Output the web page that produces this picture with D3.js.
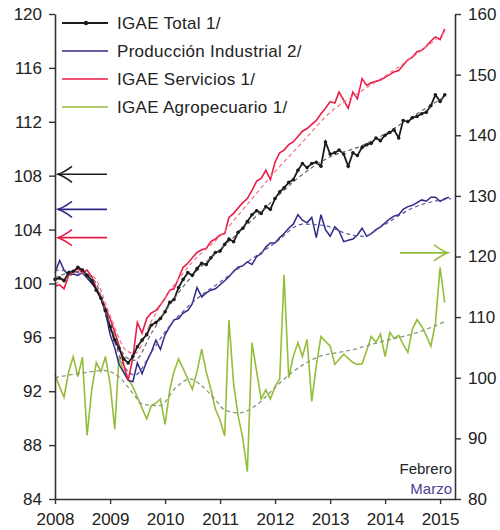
<!DOCTYPE html>
<html>
<head>
<meta charset="utf-8">
<script src="https://cdn.jsdelivr.net/npm/d3@7"></script>
<style>
  html, body { margin: 0; padding: 0; background: #fff; }
  svg { display: block; font-family: "Liberation Sans", Arial, sans-serif; }
</style>
</head>
<body>
<div id="chart"></div>
<script>
// monthly series, Jan 2008 onward
const igaeTotal = [
  100.3, 100.4, 100.2, 100.8, 100.9, 101.2, 101.0, 100.6, 100.2, 99.5, 98.9, 98.0,
  96.8, 95.8, 95.2, 94.4, 94.1, 94.6, 95.3, 95.8, 96.2, 96.9, 97.1, 97.4,
  97.9, 98.6, 98.8, 99.7, 100.3, 100.8, 100.6, 101.1, 101.5, 101.4, 101.9, 102.3,
  102.4, 102.9, 103.3, 103.1, 103.8, 104.1, 104.6, 105.1, 105.4, 105.2, 105.7, 105.5,
  106.3, 106.8, 107.1, 107.5, 107.7, 108.4, 108.9, 108.6, 108.9, 109.0, 108.7, 110.5,
  109.6, 109.7, 109.9, 109.6, 108.7, 109.7, 109.5, 110.1, 110.3, 110.4, 110.8, 110.6,
  111.0, 111.2, 111.4, 110.8, 112.1, 112.0, 112.3, 112.4, 112.6, 112.7, 113.2, 114.0,
  113.5, 114.0
];
const prodIndustrial = [
  100.8, 101.7, 101.0, 100.6, 100.7, 100.6, 100.8, 100.4, 100.0, 99.6, 98.9, 97.9,
  96.2, 95.2, 94.0, 93.4, 92.8, 92.7, 94.1, 93.3, 94.2, 94.9, 95.8, 95.1,
  96.2, 96.8, 97.3, 97.4, 97.8, 98.0, 98.5, 99.7, 99.0, 99.3, 99.5, 99.6,
  99.9, 100.2, 100.5, 100.9, 101.2, 101.3, 101.6, 101.4, 102.0, 102.2, 102.7, 103.0,
  103.0, 103.4, 103.7, 104.1, 104.4, 105.1, 104.7, 104.5, 104.9, 103.4, 105.1, 104.0,
  103.5, 104.2, 103.9, 103.1, 103.2, 103.3, 103.6, 104.1, 103.5, 103.7, 104.0, 104.2,
  104.5, 104.8, 105.0, 105.1, 105.5, 105.7, 105.8, 106.0, 106.2, 106.1, 106.4, 106.4,
  106.1, 106.3, 106.4
];
const igaeServicios = [
  99.8, 99.9, 99.6, 100.6, 100.9, 101.1, 100.8, 101.0, 100.5, 99.6, 99.0, 98.2,
  97.4, 96.4, 95.4, 94.0, 92.8, 94.5, 97.1, 96.3, 97.4, 97.8, 98.0, 98.4,
  98.9, 99.5, 99.6, 100.4, 101.2, 101.5, 101.9, 102.3, 102.5, 102.6, 103.1, 103.3,
  103.6, 103.7, 104.9, 105.2, 105.6, 106.0, 106.3, 106.9, 107.6, 107.8, 108.4, 107.7,
  109.0, 109.7, 109.9, 110.3, 110.5, 110.9, 111.3, 111.5, 111.8, 112.1, 112.6, 113.0,
  113.5, 113.4, 114.2, 113.6, 113.0, 114.2, 113.7, 115.2, 114.7, 114.9, 115.0, 115.1,
  115.3, 115.5, 115.7, 115.8, 116.2, 116.6, 116.8, 117.2, 117.3, 117.6, 118.0, 118.3,
  118.1, 118.9
];
// right axis
const igaeAgro = [
  100.5, 98.5, 96.8, 101.0, 103.5, 100.2, 103.4, 90.5, 98.0, 102.5, 101.0, 103.5,
  99.0, 91.5, 103.5, 101.0, 99.8, 98.5, 96.8, 95.0, 93.2, 95.4, 95.8, 96.5,
  92.3, 98.0, 101.0, 103.1, 101.5, 99.8, 98.1, 101.0, 104.7, 101.0, 98.1, 94.8,
  93.0, 90.4, 109.5, 99.0, 93.7, 90.0, 84.5, 105.8, 101.0, 96.5, 98.0, 96.5,
  98.5, 99.8, 117.0, 100.0, 103.5, 105.8, 103.5, 106.3, 96.1, 102.0, 106.8, 106.0,
  105.2, 102.2, 103.0, 103.9, 103.2, 102.5, 102.2, 102.3, 104.5, 106.8, 105.8, 107.2,
  103.5, 107.5, 106.5, 107.0, 105.5, 104.2, 108.0, 109.6, 108.5, 107.0, 105.2, 109.0,
  118.2, 112.4
];

// trend knots [decimal year, value]
const trendTotal = [[2008.0,100.4],[2008.4,100.9],[2008.7,100.3],[2009.0,97.0],[2009.3,94.5],[2009.45,94.3],[2009.75,96.3],[2010.0,97.9],[2010.5,100.6],[2011.0,102.5],[2011.5,104.4],[2012.0,106.3],[2012.5,108.1],[2013.0,109.4],[2013.5,110.1],[2014.0,111.1],[2014.5,112.4],[2015.1,113.9]];
const trendServicios = [[2008.0,99.9],[2008.4,100.8],[2008.7,100.5],[2009.0,97.6],[2009.3,95.0],[2009.45,94.8],[2009.75,97.2],[2010.0,98.9],[2010.5,101.6],[2011.0,103.5],[2011.5,105.9],[2012.0,108.3],[2012.5,110.5],[2013.0,112.7],[2013.5,114.1],[2014.0,115.4],[2014.5,116.8],[2015.1,118.7]];
const trendIndustrial = [[2008.0,101.0],[2008.4,100.8],[2008.7,100.1],[2009.0,96.6],[2009.3,93.6],[2009.45,93.2],[2009.75,94.9],[2010.0,96.4],[2010.5,98.6],[2011.0,100.1],[2011.5,101.6],[2012.0,103.0],[2012.5,104.4],[2012.9,104.3],[2013.3,103.7],[2013.6,103.5],[2014.0,104.4],[2014.5,105.6],[2015.2,106.3]];
const trendAgro = [[2008.0,100.0],[2008.5,100.8],[2008.9,101.2],[2009.2,99.8],[2009.4,97.6],[2009.6,95.6],[2009.9,95.4],[2010.2,98.4],[2010.45,99.8],[2010.65,98.8],[2010.9,96.5],[2011.1,94.6],[2011.35,94.2],[2011.65,95.4],[2012.0,98.4],[2012.3,100.8],[2012.75,103.3],[2013.35,104.5],[2013.95,106.0],[2014.6,107.5],[2015.1,109.3]];

const leftTicks = [84, 88, 92, 96, 100, 104, 108, 112, 116, 120];
const rightTicks = [80, 90, 100, 110, 120, 130, 140, 150, 160];
const yearTicks = [2008, 2009, 2010, 2011, 2012, 2013, 2014, 2015];

const legendLabels = ["IGAE Total 1/", "Producción Industrial 2/", "IGAE Servicios 1/", "IGAE Agropecuario 1/"];
// latest readings pointed at by the arrows
const arrowsLeft = [108.1, 105.5, 103.4];
const arrowRight = 120.6;
const noteLabels = ["Febrero", "Marzo"];

const colors = { total: "#1c1c1c", ind: "#2e2a86", serv: "#ec1b45", agro: "#94bd3a" };
const trendColors = { total: "#666", ind: "#5a56a6", serv: "#f07088", agro: "#8a9a76" };

const W = 500, H = 530;
const svg = d3.select("#chart").append("svg").attr("width", W).attr("height", H);

const x = d3.scaleTime()
  .domain([new Date(2008, 0, 1), new Date(2015, 3, 10)])
  .range([55, 455]);
const yL = d3.scaleLinear().domain([84, 120]).range([499, 14]);
const yR = d3.scaleLinear().domain([80, 160]).range([499, 14]);

const monthDate = i => new Date(2008, i, 1);
const decDate = t => {
  const yr = Math.floor(t);
  return new Date(yr, 0, 1 + Math.round((t - yr) * 365));
};

const lineL = d3.line().x((d, i) => x(monthDate(i))).y(d => yL(d));
const lineR = d3.line().x((d, i) => x(monthDate(i))).y(d => yR(d));
const trendL = d3.line().x(d => x(decDate(d[0]))).y(d => yL(d[1])).curve(d3.curveMonotoneX);
const trendR = d3.line().x(d => x(decDate(d[0]))).y(d => yR(d[1])).curve(d3.curveMonotoneX);

// agro first (underneath)
svg.append("path").attr("d", lineR(igaeAgro)).attr("fill", "none")
  .attr("stroke", colors.agro).attr("stroke-width", 1.6);
svg.append("path").attr("d", trendR(trendAgro)).attr("fill", "none")
  .attr("stroke", trendColors.agro).attr("stroke-width", 1.3).attr("stroke-dasharray", "4,3");

svg.append("path").attr("d", lineL(prodIndustrial)).attr("fill", "none")
  .attr("stroke", colors.ind).attr("stroke-width", 1.5);
svg.append("path").attr("d", trendL(trendIndustrial)).attr("fill", "none")
  .attr("stroke", trendColors.ind).attr("stroke-width", 1.2).attr("stroke-dasharray", "4,3");

svg.append("path").attr("d", lineL(igaeServicios)).attr("fill", "none")
  .attr("stroke", colors.serv).attr("stroke-width", 1.6);
svg.append("path").attr("d", trendL(trendServicios)).attr("fill", "none")
  .attr("stroke", trendColors.serv).attr("stroke-width", 1.2).attr("stroke-dasharray", "4,3");

svg.append("path").attr("d", lineL(igaeTotal)).attr("fill", "none")
  .attr("stroke", colors.total).attr("stroke-width", 1.8);
svg.append("path").attr("d", trendL(trendTotal)).attr("fill", "none")
  .attr("stroke", trendColors.total).attr("stroke-width", 1.2).attr("stroke-dasharray", "4,3");
svg.append("g").selectAll("circle").data(igaeTotal).join("circle")
  .attr("cx", (d, i) => x(monthDate(i))).attr("cy", d => yL(d))
  .attr("r", 1.8).attr("fill", colors.total);

// axes
const axisColor = "#333";
const fontSize = 17;

const gL = svg.append("g").attr("transform", "translate(55,0)")
  .call(d3.axisLeft(yL).tickValues(leftTicks).tickSize(6).tickPadding(7).tickSizeOuter(0));
const gR = svg.append("g").attr("transform", "translate(455,0)")
  .call(d3.axisRight(yR).tickValues(rightTicks).tickSize(6).tickPadding(7).tickSizeOuter(0));
const gB = svg.append("g").attr("transform", "translate(0,499)")
  .call(d3.axisBottom(x).tickValues(yearTicks.map(yr => new Date(yr, 0, 1)))
    .tickFormat(d3.timeFormat("%Y")).tickSize(5).tickPadding(9).tickSizeOuter(0));

[gL, gR, gB].forEach(g => {
  g.select(".domain").attr("stroke", axisColor).attr("stroke-width", 1.6);
  g.selectAll(".tick line").attr("stroke", axisColor).attr("stroke-width", 1.4);
  g.selectAll(".tick text").attr("fill", "#222").attr("font-size", fontSize)
    .attr("font-family", "Liberation Sans, Arial, sans-serif");
});

// legend
const legendItems = [
  { label: legendLabels[0], color: colors.total, dot: true },
  { label: legendLabels[1], color: colors.ind },
  { label: legendLabels[2], color: colors.serv },
  { label: legendLabels[3], color: colors.agro },
];
const lg = svg.append("g");
legendItems.forEach((it, i) => {
  const yy = 23 + i * 28;
  lg.append("line").attr("x1", 62).attr("x2", 108).attr("y1", yy).attr("y2", yy)
    .attr("stroke", it.color).attr("stroke-width", it.dot ? 1.8 : 1.6);
  if (it.dot) lg.append("circle").attr("cx", 86).attr("cy", yy).attr("r", 2.2).attr("fill", it.color);
  lg.append("text").attr("x", 117).attr("y", yy).attr("dy", "0.36em")
    .attr("font-size", fontSize).attr("letter-spacing", 0.3).attr("fill", "#222").text(it.label);
});

// arrows
function arrow(yy, x1, x2, color) {
  const dir = x2 > x1 ? 1 : -1;
  const g = svg.append("g").attr("fill", "none").attr("stroke", color).attr("stroke-width", 1.6);
  g.append("line").attr("x1", x1).attr("x2", x2).attr("y1", yy).attr("y2", yy);
  g.append("path").attr("d", `M${x2 - dir * 14},${yy - 8} Q${x2 - dir * 6},${yy - 2} ${x2},${yy} Q${x2 - dir * 6},${yy + 2} ${x2 - dir * 14},${yy + 8}`);
}
const arrowColors = [colors.total, colors.ind, colors.serv];
arrowsLeft.forEach((v, i) => arrow(yL(v), 107, 58, arrowColors[i]));
arrow(yR(arrowRight), 400, 448, colors.agro);

// notes
svg.append("text").attr("x", 452).attr("y", 474).attr("text-anchor", "end")
  .attr("font-size", 15).attr("fill", "#222").text(noteLabels[0]);
svg.append("text").attr("x", 452).attr("y", 494).attr("text-anchor", "end")
  .attr("font-size", 15).attr("fill", "#4a4296").text(noteLabels[1]);
</script>
</body>
</html>
